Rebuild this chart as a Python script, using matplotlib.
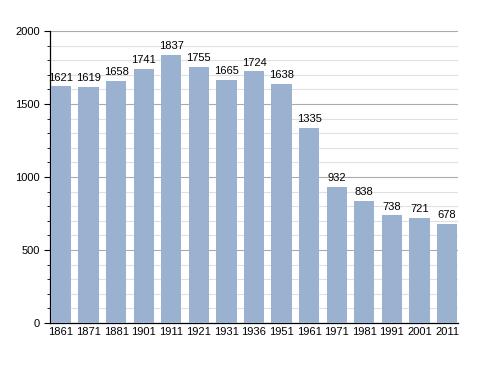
import matplotlib
matplotlib.use("Agg")
import matplotlib.pyplot as plt
from matplotlib.ticker import MultipleLocator

plt.rcParams['font.family'] = ['Liberation Sans', 'DejaVu Sans']

years = ["1861", "1871", "1881", "1901", "1911", "1921", "1931", "1936", "1951",
         "1961", "1971", "1981", "1991", "2001", "2011"]
population = [1621, 1619, 1658, 1741, 1837, 1755, 1665, 1724, 1638,
              1335, 932, 838, 738, 721, 678]

fig = plt.figure(figsize=(4.88, 3.73), dpi=100)
ax = fig.add_axes([50/488, 1 - 323/373, 408/488, 292/373])

x = list(range(len(years)))
ax.bar(x, population, width=0.74, color="#9ab2cf", zorder=3)
for xi, v in zip(x, population):
    ax.text(xi, v + 25, str(v), ha="center", va="bottom", fontsize=8, zorder=4)

ax.set_xlim(-0.4, len(years) - 0.6)
ax.set_ylim(0, 2000)
ax.set_xticks(x)
ax.set_xticklabels(years, fontsize=8)
ax.tick_params(axis="x", length=0, pad=3)
ax.yaxis.set_major_locator(MultipleLocator(500))
ax.yaxis.set_minor_locator(MultipleLocator(100))
ax.tick_params(axis="y", which="major", length=4, labelsize=8, width=0.8)
ax.tick_params(axis="y", which="minor", length=2, width=0.6)
ax.grid(axis="y", which="major", color="#aaaaaa", linewidth=0.8, zorder=0)
ax.grid(axis="y", which="minor", color="#e0e0e0", linewidth=0.8, zorder=0)
for s in ["top", "right"]:
    ax.spines[s].set_visible(False)
ax.spines["left"].set_linewidth(0.9)
ax.spines["bottom"].set_linewidth(0.9)

fig.savefig("out.png", dpi=100)
